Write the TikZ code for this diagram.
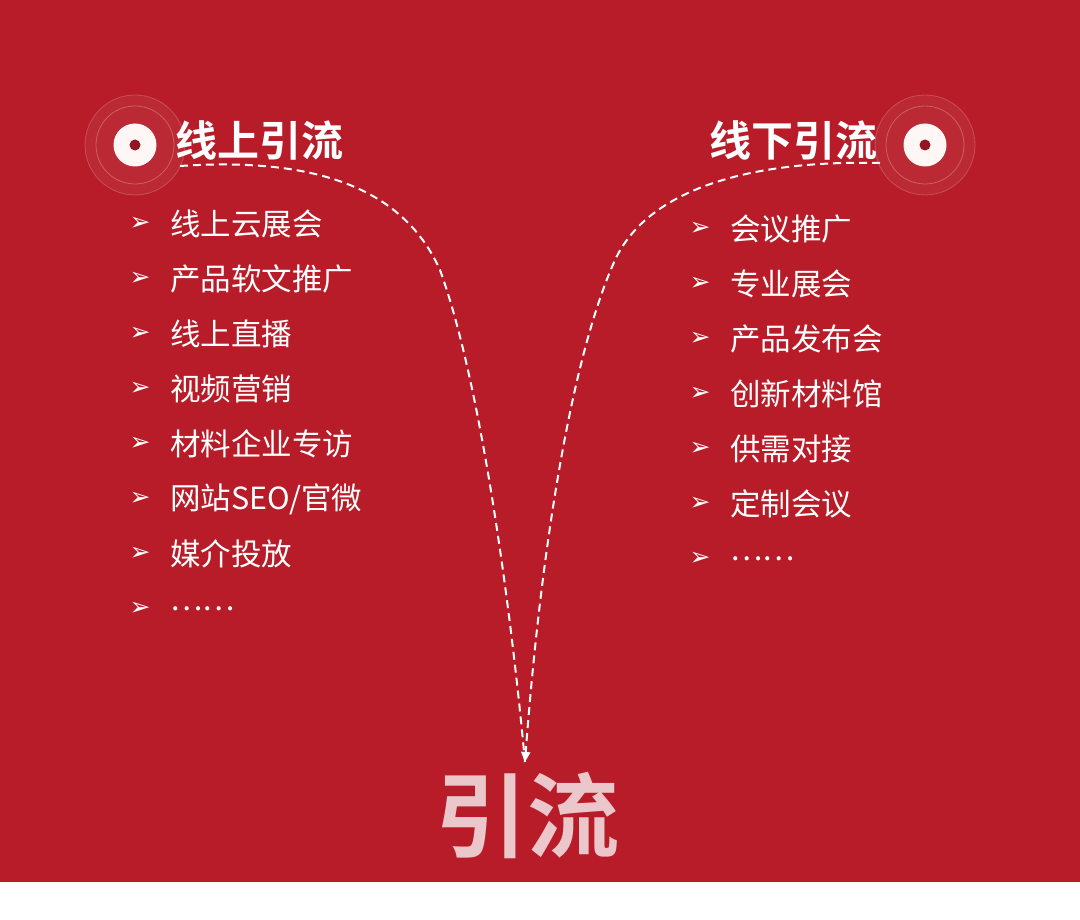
\documentclass[tikz,border=0pt]{standalone}
\usepackage{fontspec}
\setmainfont{Noto Sans CJK SC}
\newfontfamily\cjkb{Noto Sans CJK SC Bold}
\newfontfamily\dv{DejaVu Sans}
\usetikzlibrary{arrows.meta}
\definecolor{bg}{HTML}{B71C28}
\definecolor{pk}{HTML}{EBC6CA}
\tikzset{x=1pt,y=-1pt,
 item/.style={anchor=west,text=white,font=\fontsize{30.5}{33}\selectfont,inner sep=0},
 bul/.style={text=white,font=\dv\fontsize{25}{27}\selectfont,inner sep=0},
 ttl/.style={text=white,font=\cjkb\fontsize{42}{45}\selectfont,inner sep=0},
 flow/.style={white,line width=2pt,dash pattern=on 8pt off 5pt}}
\newcommand\target[1]{%
 \fill[white,opacity=0.06] (#1) circle (50);
 \draw[white,opacity=0.2,line width=0.8pt] (#1) circle (50);
 \draw[white,opacity=0.25,line width=0.8pt] (#1) circle (39);
 \fill[white!85!pink] (#1) circle (21.5);
 \fill[bg!80!black] (#1) circle (5.5);}
\begin{document}
\begin{tikzpicture}
\useasboundingbox (0,0) rectangle (1080,920);
\fill[bg] (0,0) rectangle (1080,882);
\coordinate (cl) at (135,145); \coordinate (cr) at (925,145);
\target{cl}\target{cr}
\node[ttl,anchor=west] (tl) at (175,140) {线上引流};
\node[ttl,anchor=east] (tr) at (878,140) {线下引流};
\coordinate (sl) at (180,166); \coordinate (sr) at (880,163);
\coordinate (end) at (525,762);
\draw[flow] (sl) .. controls (300,158) and (400,180) .. (440,270) .. controls (480,380) and (510,600) .. (end);
\draw[flow,-{Triangle[width=9pt,length=10pt]}] (sr) .. controls (760,160) and (650,185) .. (615,260) .. controls (570,360) and (540,560) .. (end);
\node[text=pk,font=\cjkb\fontsize{92}{96}\selectfont,inner sep=0] (big) at (527,815) {引流};
\foreach \t [count=\i] in {线上云展会,产品软文推广,线上直播,视频营销,材料企业专访,网站SEO/官微,媒介投放,……}{
 \node[bul] (lb\i) at (140,{224+55*(\i-1)}) {➢};
 \node[item] (li\i) at (170,{224+55*(\i-1)}) {\t};}
\foreach \t [count=\i] in {会议推广,专业展会,产品发布会,创新材料馆,供需对接,定制会议,……}{
 \node[bul] (rb\i) at (700,{229+55*(\i-1)}) {➢};
 \node[item] (ri\i) at (730,{229+55*(\i-1)}) {\t};}
\end{tikzpicture}
\end{document}
